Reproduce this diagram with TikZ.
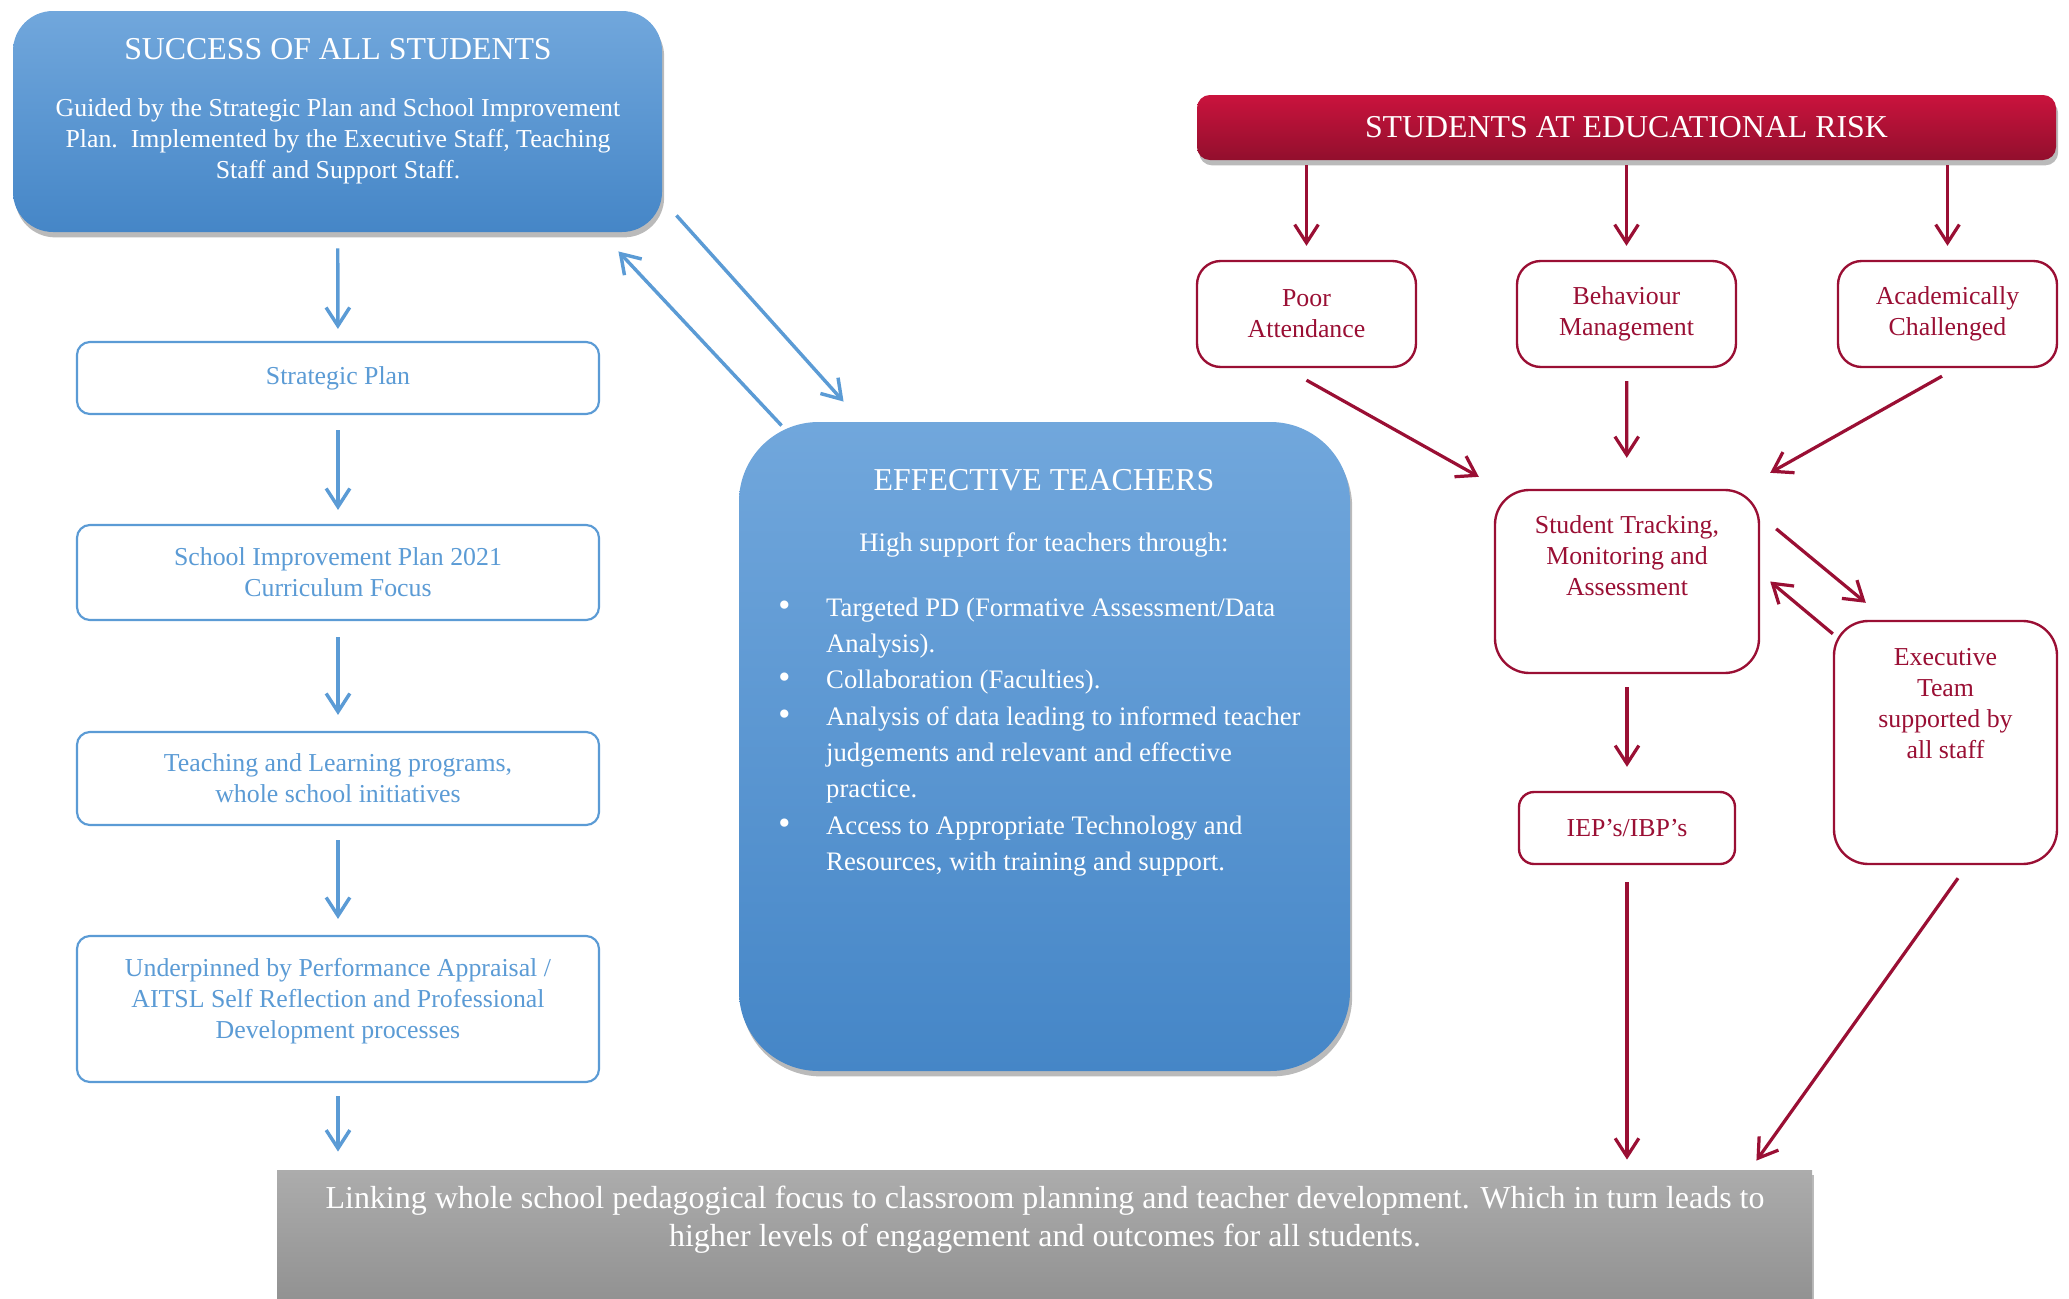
\documentclass[tikz,border=0pt]{standalone}
\usepackage{fontspec}
\setmainfont{Liberation Serif}
\usetikzlibrary{arrows.meta,shadows}
\definecolor{planblue}{HTML}{5B9BD5}
\definecolor{bluetop}{HTML}{71A7DC}
\definecolor{bluebot}{HTML}{4586C7}
\definecolor{riskred}{HTML}{9A0F34}
\definecolor{redtop}{HTML}{CA133D}
\definecolor{redbot}{HTML}{920F2D}
\definecolor{greytop}{HTML}{ACACAC}
\definecolor{greybot}{HTML}{929292}
\newlength\unitpx
\setlength\unitpx{0.4646pt}
\newcommand{\bodyfont}{\fontsize{12}{14.4}\selectfont}
\newcommand{\headfont}{\fontsize{14.8}{17.6}\selectfont}
\newcommand{\listbullet}{{\fontsize{16}{16}\selectfont\textbullet}}

\begin{document}
\begin{tikzpicture}[x=0.4646pt, y=-0.4646pt,
    softshadow/.style={drop shadow={shadow xshift=1pt, shadow yshift=-2.5pt, fill=black!60, opacity=.45}},
    bluebig/.style={top color=bluetop, bottom color=bluebot, softshadow, inner sep=0pt},
    planbox/.style={draw=planblue, line width=1pt, rounded corners=6pt, fill=white, text=planblue,
        font=\bodyfont, align=center, minimum width=522\unitpx, inner sep=0pt},
    riskbox/.style={draw=riskred, line width=1.1pt, rounded corners=11pt, fill=white, text=riskred,
        font=\bodyfont, align=center, inner sep=0pt},
    whitetext/.style={text=white, align=center, inner sep=0pt},
    bluearrow/.style={planblue, line width=1.6pt, -{Straight Barb[length=8.5pt,width=11pt]}},
    redarrow/.style={riskred, line width=1.5pt, -{Straight Barb[length=8.5pt,width=11pt]}},
    ends/.style 2 args={shorten <=#1\unitpx, shorten >=#2\unitpx}]
    \useasboundingbox (0,0) rectangle (2069,1299);

    \path
    node[bluebig, rounded corners=18.6pt, minimum width=649\unitpx, minimum height=221\unitpx] (success) at (337.5,121.5) {}
    node[whitetext, font=\headfont] (success-title) at (338,49) {SUCCESS OF ALL STUDENTS}
    node[whitetext, font=\bodyfont] (success-text) at (338,141)
        {Guided by the Strategic Plan and School Improvement\\Plan.\ \ Implemented by the Executive Staff, Teaching\\Staff and Support Staff.}
    node[planbox, minimum height=72\unitpx] (strategic) at (338,378) {Strategic Plan}
    node[planbox, minimum height=95\unitpx] (improve) at (338,572.5) {School Improvement Plan 2021\\Curriculum Focus}
    node[planbox, minimum height=93\unitpx] (teaching) at (338,778.5) {Teaching and Learning programs,\\whole school initiatives}
    node[planbox, minimum height=146\unitpx] (appraisal) at (338,1009) {}
    node[planbox, draw=none, fill=none] (appraisal-text) at (338,1001)
        {Underpinned by Performance Appraisal /\\AITSL Self Reflection and Professional\\Development processes};

    \path
    node[bluebig, rounded corners=37pt, minimum width=611\unitpx, minimum height=649\unitpx] (effective) at (1044.5,746.5) {}
    node[whitetext, font=\headfont] (effective-title) at (1044,480) {EFFECTIVE TEACHERS}
    node[whitetext, font=\fontsize{12.4}{14.8}\selectfont] (effective-text) at (1044,545) {High support for teachers through:}
    node[whitetext, anchor=base west, font=\fontsize{12.4}{16.9}\selectfont] (effective-list) at (778,616)
        {\begin{tabular}[t]{@{}p{22.2pt}@{}l@{}}
        \listbullet & Targeted PD (Formative Assessment/Data\\
         & Analysis).\\
        \listbullet & Collaboration (Faculties).\\
        \listbullet & Analysis of data leading to informed teacher\\
         & judgements and relevant and effective\\
         & practice.\\
        \listbullet & Access to Appropriate Technology and\\
         & Resources, with training and support.
        \end{tabular}};

    \path
    node[top color=greytop, bottom color=greybot, softshadow, minimum width=1535\unitpx, minimum height=129\unitpx] (link) at (1044.5,1234.5) {}
    node[whitetext, font=\fontsize{14.85}{17.4}\selectfont] (link-text) at (1045,1219.5)
        {Linking whole school pedagogical focus to classroom planning and teacher development. Which in turn leads to\\higher levels of engagement and outcomes for all students.};

    \path
    node[top color=redtop, bottom color=redbot, softshadow, rounded corners=6pt, text=white, font=\headfont,
        minimum width=859\unitpx, minimum height=65\unitpx] (risk) at (1626.5,127.5) {STUDENTS AT EDUCATIONAL RISK}
    node[riskbox, minimum width=219\unitpx, minimum height=106\unitpx] (poor) at (1306.5,314) {Poor\\Attendance}
    node[riskbox, minimum width=219\unitpx, minimum height=106\unitpx] (behav) at (1626.5,314) {Behaviour\\Management}
    node[riskbox, minimum width=219\unitpx, minimum height=106\unitpx] (acad) at (1947.5,314) {Academically\\Challenged}
    node[riskbox, rounded corners=16pt, minimum width=264\unitpx, minimum height=183\unitpx] (tracking) at (1627,581.5) {}
    node[riskbox, draw=none, fill=none] (tracking-text) at (1627,556) {Student Tracking,\\Monitoring and\\Assessment}
    node[riskbox, rounded corners=16pt, minimum width=223\unitpx, minimum height=243\unitpx] (exec) at (1945.5,742.5) {}
    node[riskbox, draw=none, fill=none] (exec-text) at (1945.5,704) {Executive\\Team\\supported by\\all staff}
    node[riskbox, rounded corners=7pt, minimum width=216\unitpx, minimum height=72\unitpx] (iep) at (1627,828) {IEP’s/IBP’s};

    \path
    (success) edge[bluearrow, ends={16}{12}] (strategic)
    (strategic) edge[bluearrow, ends={15}{14}] (improve)
    (improve) edge[bluearrow, ends={16}{16}] (teaching)
    (teaching) edge[bluearrow, ends={14}{16}] (appraisal)
    (appraisal.south) edge[bluearrow, ends={13}{18}] (appraisal.south |- link.north)
    ([xshift=14\unitpx,yshift=17\unitpx]success.south east) edge[bluearrow] ([xshift=105\unitpx,yshift=20\unitpx]effective.north west)
    ([xshift=43\unitpx,yshift=-4\unitpx]effective.north west) edge[bluearrow] ([xshift=-44\unitpx,yshift=-19\unitpx]success.south east);

    \path
    (risk.south -| poor.north) edge[redarrow, ends={5}{14}] (poor.north)
    (risk) edge[redarrow, ends={5}{14}] (behav)
    (risk.south -| acad.north) edge[redarrow, ends={5}{14}] (acad.north)
    ([yshift=-12\unitpx]poor.south) edge[redarrow] ([xshift=-15\unitpx,yshift=12\unitpx]tracking.north west)
    (behav) edge[redarrow, ends={13}{31}] (tracking)
    ([xshift=-5.5\unitpx,yshift=-8\unitpx]acad.south) edge[redarrow] ([xshift=10\unitpx,yshift=16\unitpx]tracking.north east)
    ([xshift=16\unitpx,yshift=-40\unitpx]tracking.north east) edge[redarrow] ([xshift=33\unitpx,yshift=17\unitpx]exec.north west)
    ([yshift=-14\unitpx]exec.north west) edge[redarrow] ([xshift=10\unitpx]tracking.east)
    (tracking) edge[redarrow, ends={13}{24}] (iep)
    (iep.south) edge[redarrow, ends={17}{10}] (iep.south |- link.north)
    ([xshift=12.5\unitpx,yshift=-13\unitpx]exec.south) edge[redarrow] ([xshift=-56\unitpx,yshift=9\unitpx]link.north east);
\end{tikzpicture}
\end{document}
